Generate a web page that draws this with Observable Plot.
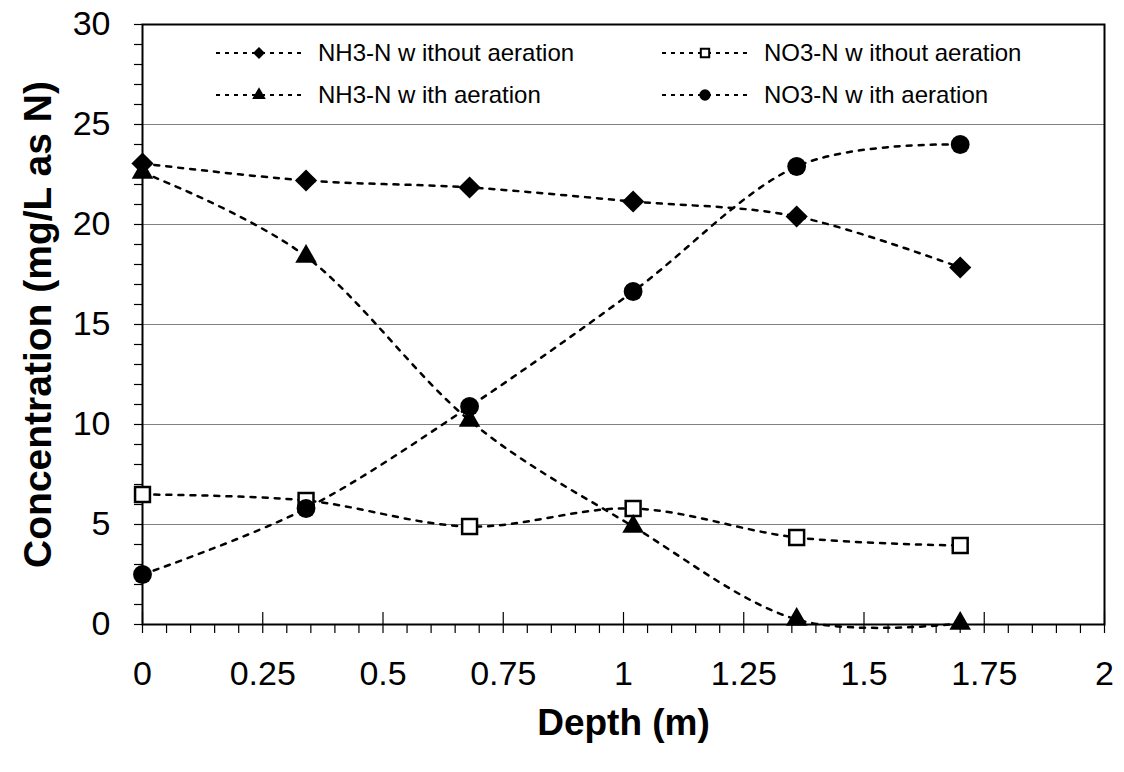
<!DOCTYPE html>
<html>
<head>
<meta charset="utf-8">
<script src="https://cdn.jsdelivr.net/npm/d3@7"></script>
<script src="https://cdn.jsdelivr.net/npm/@observablehq/plot@0.6"></script>
<style>
  body { margin: 0; background: #fff; }
  #chart { position: relative; width: 1124px; height: 772px; font-family: "Liberation Sans", Arial, sans-serif; color: #000; }
  .legend-item { position: absolute; display: flex; align-items: center; font-size: 24px; white-space: pre; line-height: 1; }
  .legend-item svg { margin-right: 14px; }
</style>
</head>
<body>
<div id="chart"></div>
<script>
// Depth of each sampling port (m)
const depth = [0, 0.34, 0.68, 1.02, 1.36, 1.70];

// Concentrations (mg/L as N)
const nh3Without = [23.05, 22.2, 21.85, 21.15, 20.4, 17.85];
const no3Without = [6.5, 6.2, 4.9, 5.8, 4.35, 3.95];
const nh3With = [22.6, 18.4, 10.2, 4.9, 0.25, 0.05];
const no3With = [2.5, 5.8, 10.9, 16.65, 22.9, 24.0];

const seriesNames = [
  "NH3-N w ithout aeration",
  "NO3-N w ithout aeration",
  "NH3-N w ith aeration",
  "NO3-N w ith aeration"
];

// Axis ticks
const xTicks = [0, 0.25, 0.5, 0.75, 1, 1.25, 1.5, 1.75, 2];
const xMinorTicks = d3.range(0, 41).map(i => i / 20);
const yTicks = [0, 5, 10, 15, 20, 25, 30];
const yMinorTicks = d3.range(0, 31);
const gridValues = [5, 10, 15, 20, 25];

// Marker styling per series
const series = [
  {name: seriesNames[0], values: nh3Without, symbol: "diamond2", r: 10, fill: "black", stroke: "none", sw: 0},
  {name: seriesNames[1], values: no3Without, symbol: "square", r: 8.4, fill: "white", stroke: "black", sw: 2.5},
  {name: seriesNames[2], values: nh3With, symbol: "triangle", r: 8, fill: "black", stroke: "none", sw: 0},
  {name: seriesNames[3], values: no3With, symbol: "circle", r: 9.4, fill: "black", stroke: "none", sw: 0}
];

const rows = series.flatMap(s => depth.map((d, i) => ({series: s.name, depth: d, value: s.values[i]})));

const lineStyle = {stroke: "black", strokeWidth: 2.5, strokeDasharray: "5,7"};

const plot = Plot.plot({
  width: 1124,
  height: 772,
  marginLeft: 142,
  marginRight: 20,
  marginTop: 24,
  marginBottom: 148,
  style: {fontFamily: "'Liberation Sans', Arial, sans-serif", background: "white", color: "black"},
  x: {domain: [0, 2]},
  y: {domain: [0, 30]},
  marks: [
    Plot.gridY(gridValues, {stroke: "#808080", strokeOpacity: 1, strokeWidth: 1}),
    Plot.axisY(yTicks, {tickSize: 0, tickPadding: 32, fontSize: 34, tickFormat: d => String(d), label: null}),
    Plot.axisY(yMinorTicks, {tickSize: 8, text: null, label: null, strokeWidth: 1.2}),
    Plot.axisX(xTicks, {tickSize: 0, tickPadding: 36, fontSize: 34, tickFormat: d => String(d), label: null}),
    Plot.axisX(xMinorTicks, {tickSize: 9, text: null, label: null, strokeWidth: 1.2}),
    Plot.axisX(xTicks, {tickSize: -12, text: null, label: null, strokeWidth: 1.2}),
    Plot.frame({stroke: "black", strokeWidth: 2}),
    Plot.line(rows, {x: "depth", y: "value", z: "series", curve: "cardinal", tension: 0, ...lineStyle}),
    ...series.map(s => Plot.dot(rows.filter(d => d.series === s.name), {
      x: "depth", y: "value", symbol: () => s.symbol, r: s.r,
      fill: s.fill, stroke: s.stroke, strokeWidth: s.sw
    })),
    Plot.text(["Depth (m)"], {frameAnchor: "bottom", dy: 110, fontSize: 37, fontWeight: "bold", fill: "black"}),
    Plot.text(["Concentration (mg/L as N)"], {frameAnchor: "left", textAnchor: "middle", dx: -104, rotate: -90, fontSize: 39, fontWeight: "bold", fill: "black"})
  ]
});

const chart = document.getElementById("chart");
chart.appendChild(plot);

// Legend in two columns inside the top of the plot area
const legendPlaces = [
  {left: 214, top: 53}, {left: 660, top: 53},
  {left: 214, top: 95}, {left: 660, top: 95}
];
const symbolTypes = {diamond2: d3.symbolDiamond2, square: d3.symbolSquare, triangle: d3.symbolTriangle, circle: d3.symbolCircle};
const symbolSizes = {diamond2: 90, square: 70, triangle: 80, circle: 100};
series.forEach((s, i) => {
  const item = document.createElement("div");
  item.className = "legend-item";
  item.style.left = legendPlaces[i].left + "px";
  item.style.top = (legendPlaces[i].top - 12) + "px";
  const w = 90, h = 24;
  const path = d3.symbol(symbolTypes[s.symbol], symbolSizes[s.symbol])();
  item.innerHTML =
    `<svg width="${w}" height="${h}" viewBox="0 0 ${w} ${h}">
       <line x1="2" x2="${w - 2}" y1="${h / 2}" y2="${h / 2}" stroke="black" stroke-width="2" stroke-dasharray="4,5"/>
       <path d="${path}" transform="translate(${w / 2},${h / 2})" fill="${s.fill}" stroke="${s.stroke}" stroke-width="${s.sw ? 2 : 0}"/>
     </svg><span>${s.name}</span>`;
  chart.appendChild(item);
});
</script>
</body>
</html>
